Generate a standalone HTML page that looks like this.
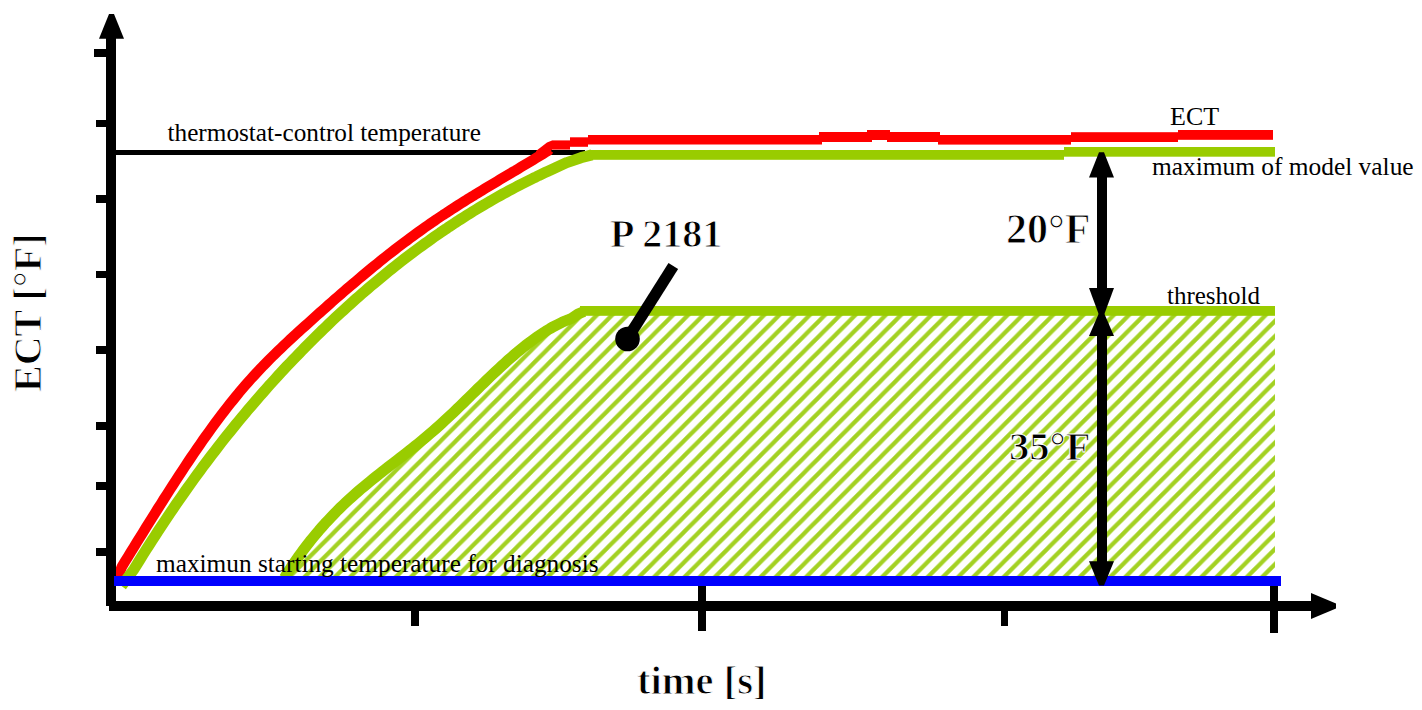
<!DOCTYPE html>
<html><head><meta charset="utf-8"><style>
html,body{margin:0;padding:0;background:#fff;width:1422px;height:710px;overflow:hidden}
svg{display:block;font-family:"Liberation Serif",serif}
</style></head><body>
<svg width="1422" height="710" viewBox="0 0 1422 710">
<defs><pattern id="h" patternUnits="userSpaceOnUse" width="15.2" height="15.2"><path d="M-3.8,3.8 L3.8,-3.8 M0,15.2 L15.2,0 M11.4,19 L19,11.4" stroke="#a3d122" stroke-width="4.2"/></pattern></defs>
<polygon points="280.0,576.0 284.5,578.0 286.0,575.3 289.0,570.6 292.0,566.0 295.0,561.6 298.0,557.3 301.0,553.2 304.0,549.1 307.0,545.2 310.0,541.3 313.0,537.6 316.0,534.0 319.0,530.4 322.0,527.0 325.0,523.6 328.0,520.4 331.0,517.2 334.0,514.1 337.0,511.0 340.0,508.0 343.0,505.1 346.0,502.3 349.0,499.5 352.0,496.8 355.0,494.1 358.0,491.5 361.0,488.9 364.0,486.4 367.0,483.9 370.0,481.5 373.0,479.0 376.0,476.6 379.0,474.2 382.0,471.9 385.0,469.5 388.0,467.2 391.0,464.9 394.0,462.6 397.0,460.2 400.0,457.9 403.0,455.6 406.0,453.2 409.0,450.9 412.0,448.5 415.0,446.1 418.0,443.7 421.0,441.3 424.0,438.8 427.0,436.3 430.0,433.7 433.0,431.1 436.0,428.5 439.0,425.8 442.0,423.1 445.0,420.3 448.0,417.5 451.0,414.7 454.0,411.9 457.0,409.0 460.0,406.1 463.0,403.2 466.0,400.3 469.0,397.3 472.0,394.4 475.0,391.5 478.0,388.5 481.0,385.6 484.0,382.7 487.0,379.8 490.0,376.9 493.0,374.1 496.0,371.2 499.0,368.4 502.0,365.7 505.0,362.9 508.0,360.2 511.0,357.6 514.0,355.0 517.0,352.4 520.0,349.9 523.0,347.5 526.0,345.1 529.0,342.8 532.0,340.6 535.0,338.4 538.0,336.3 541.0,334.3 544.0,332.3 547.0,330.4 550.0,328.6 553.0,326.9 556.0,325.3 559.0,323.8 562.0,322.3 565.0,321.0 568.0,319.8 571.0,318.7 578.0,314.0 584.0,311.5 1275.0,311.0 1275.0,576.0" fill="url(#h)"/>
<rect x="116" y="150" width="469" height="5" fill="#000"/>
<polyline points="117.0,579.0 122.0,566.4 125.0,561.5 128.0,556.7 131.0,551.8 134.0,547.0 137.0,542.1 140.0,537.3 143.0,532.5 146.0,527.6 149.0,522.8 152.0,518.0 155.0,513.2 158.0,508.4 161.0,503.7 164.0,498.9 167.0,494.2 170.0,489.5 173.0,484.9 176.0,480.2 179.0,475.6 182.0,471.1 185.0,466.5 188.0,462.0 191.0,457.5 194.0,453.1 197.0,448.7 200.0,444.4 203.0,440.1 206.0,435.9 209.0,431.7 212.0,427.5 215.0,423.4 218.0,419.4 221.0,415.4 224.0,411.5 227.0,407.6 230.0,403.8 233.0,400.1 236.0,396.4 239.0,392.7 242.0,389.2 245.0,385.7 248.0,382.3 251.0,378.9 254.0,375.6 257.0,372.4 260.0,369.2 263.0,366.0 266.0,363.0 269.0,359.9 272.0,356.9 275.0,354.0 278.0,351.1 281.0,348.2 284.0,345.3 287.0,342.5 290.0,339.7 293.0,336.9 296.0,334.2 299.0,331.4 302.0,328.7 305.0,326.0 308.0,323.3 311.0,320.6 314.0,317.9 317.0,315.2 320.0,312.5 323.0,309.8 326.0,307.2 329.0,304.5 332.0,301.9 335.0,299.2 338.0,296.6 341.0,294.0 344.0,291.4 347.0,288.8 350.0,286.3 353.0,283.7 356.0,281.2 359.0,278.6 362.0,276.1 365.0,273.6 368.0,271.1 371.0,268.6 374.0,266.2 377.0,263.8 380.0,261.3 383.0,258.9 386.0,256.5 389.0,254.2 392.0,251.8 395.0,249.5 398.0,247.2 401.0,244.9 404.0,242.6 407.0,240.4 410.0,238.1 413.0,235.9 416.0,233.7 419.0,231.6 422.0,229.4 425.0,227.3 428.0,225.2 431.0,223.1 434.0,221.1 437.0,219.0 440.0,217.0 443.0,215.0 446.0,213.1 449.0,211.1 452.0,209.1 455.0,207.2 458.0,205.3 461.0,203.4 464.0,201.5 467.0,199.6 470.0,197.8 473.0,195.9 476.0,194.1 479.0,192.2 482.0,190.4 485.0,188.6 488.0,186.8 491.0,185.0 494.0,183.2 497.0,181.4 500.0,179.6 503.0,177.8 506.0,176.0 509.0,174.2 512.0,172.4 515.0,170.7 518.0,168.9 521.0,167.1 524.0,165.3 527.0,163.5 530.0,161.7 533.0,159.9 536.0,158.1 539.0,156.3 542.0,154.5 545.0,152.6 548.0,150.8 549.0,149.5" fill="none" stroke="#ff0000" stroke-width="10.5" stroke-linejoin="round"/>
<polygon points="536,151 547,142.5 552,140.4 552,149.6 547,156.6 537,162.3" fill="#ff0000"/>
<rect x="552" y="140.4" width="18" height="9.199999999999989" fill="#ff0000"/>
<rect x="570" y="137.3" width="18" height="9.5" fill="#ff0000"/>
<rect x="588" y="135" width="231" height="9.5" fill="#ff0000"/>
<rect x="819" y="132" width="48" height="10" fill="#ff0000"/>
<rect x="867" y="130" width="23" height="10" fill="#ff0000"/>
<rect x="890" y="132" width="50" height="10" fill="#ff0000"/>
<rect x="940" y="135" width="131" height="9.599999999999994" fill="#ff0000"/>
<rect x="1071" y="132.2" width="107" height="9.800000000000011" fill="#ff0000"/>
<rect x="1178" y="130" width="95" height="9.800000000000011" fill="#ff0000"/>
<rect x="819" y="142" width="3" height="2.5" fill="#ff0000"/>
<rect x="867" y="139" width="5" height="3" fill="#ff0000"/>
<rect x="887" y="139" width="3" height="3" fill="#ff0000"/>
<rect x="938" y="142" width="2" height="2.5999999999999943" fill="#ff0000"/>
<polyline points="121.5,586.0 134.0,569.2 137.0,564.3 140.0,559.5 143.0,554.7 146.0,549.9 149.0,545.2 152.0,540.5 155.0,535.9 158.0,531.3 161.0,526.7 164.0,522.2 167.0,517.7 170.0,513.2 173.0,508.8 176.0,504.4 179.0,500.1 182.0,495.8 185.0,491.5 188.0,487.3 191.0,483.1 194.0,478.9 197.0,474.8 200.0,470.7 203.0,466.6 206.0,462.6 209.0,458.6 212.0,454.7 215.0,450.8 218.0,446.9 221.0,443.0 224.0,439.2 227.0,435.4 230.0,431.7 233.0,428.0 236.0,424.3 239.0,420.6 242.0,417.0 245.0,413.4 248.0,409.8 251.0,406.3 254.0,402.8 257.0,399.3 260.0,395.9 263.0,392.5 266.0,389.1 269.0,385.7 272.0,382.4 275.0,379.1 278.0,375.8 281.0,372.6 284.0,369.3 287.0,366.1 290.0,363.0 293.0,359.8 296.0,356.7 299.0,353.6 302.0,350.5 305.0,347.4 308.0,344.4 311.0,341.4 314.0,338.4 317.0,335.4 320.0,332.5 323.0,329.5 326.0,326.7 329.0,323.8 332.0,320.9 335.0,318.1 338.0,315.3 341.0,312.5 344.0,309.8 347.0,307.0 350.0,304.3 353.0,301.6 356.0,298.9 359.0,296.3 362.0,293.7 365.0,291.1 368.0,288.5 371.0,285.9 374.0,283.4 377.0,280.9 380.0,278.4 383.0,275.9 386.0,273.4 389.0,271.0 392.0,268.6 395.0,266.2 398.0,263.9 401.0,261.5 404.0,259.2 407.0,256.9 410.0,254.6 413.0,252.3 416.0,250.1 419.0,247.9 422.0,245.7 425.0,243.5 428.0,241.4 431.0,239.2 434.0,237.1 437.0,235.0 440.0,232.9 443.0,230.9 446.0,228.9 449.0,226.8 452.0,224.8 455.0,222.9 458.0,220.9 461.0,219.0 464.0,217.1 467.0,215.2 470.0,213.3 473.0,211.4 476.0,209.6 479.0,207.8 482.0,206.0 485.0,204.2 488.0,202.5 491.0,200.7 494.0,199.0 497.0,197.3 500.0,195.6 503.0,193.9 506.0,192.3 509.0,190.7 512.0,189.1 515.0,187.5 518.0,185.9 521.0,184.3 524.0,182.8 527.0,181.3 530.0,179.8 533.0,178.3 536.0,176.9 539.0,175.4 542.0,174.0 545.0,172.6 548.0,171.2 566.8,162.6 581.0,157.7 592.0,154.9" fill="none" stroke="#99cc00" stroke-width="11" stroke-linejoin="round"/>
<rect x="590" y="150" width="474" height="9.8" fill="#99cc00"/>
<rect x="1064" y="147" width="211" height="9.7" fill="#99cc00"/>
<polyline points="284.5,578.0 286.0,575.3 289.0,570.6 292.0,566.0 295.0,561.6 298.0,557.3 301.0,553.2 304.0,549.1 307.0,545.2 310.0,541.3 313.0,537.6 316.0,534.0 319.0,530.4 322.0,527.0 325.0,523.6 328.0,520.4 331.0,517.2 334.0,514.1 337.0,511.0 340.0,508.0 343.0,505.1 346.0,502.3 349.0,499.5 352.0,496.8 355.0,494.1 358.0,491.5 361.0,488.9 364.0,486.4 367.0,483.9 370.0,481.5 373.0,479.0 376.0,476.6 379.0,474.2 382.0,471.9 385.0,469.5 388.0,467.2 391.0,464.9 394.0,462.6 397.0,460.2 400.0,457.9 403.0,455.6 406.0,453.2 409.0,450.9 412.0,448.5 415.0,446.1 418.0,443.7 421.0,441.3 424.0,438.8 427.0,436.3 430.0,433.7 433.0,431.1 436.0,428.5 439.0,425.8 442.0,423.1 445.0,420.3 448.0,417.5 451.0,414.7 454.0,411.9 457.0,409.0 460.0,406.1 463.0,403.2 466.0,400.3 469.0,397.3 472.0,394.4 475.0,391.5 478.0,388.5 481.0,385.6 484.0,382.7 487.0,379.8 490.0,376.9 493.0,374.1 496.0,371.2 499.0,368.4 502.0,365.7 505.0,362.9 508.0,360.2 511.0,357.6 514.0,355.0 517.0,352.4 520.0,349.9 523.0,347.5 526.0,345.1 529.0,342.8 532.0,340.6 535.0,338.4 538.0,336.3 541.0,334.3 544.0,332.3 547.0,330.4 550.0,328.6 553.0,326.9 556.0,325.3 559.0,323.8 562.0,322.3 565.0,321.0 568.0,319.8 571.0,318.7 578.0,314.0 584.0,311.5" fill="none" stroke="#99cc00" stroke-width="11" stroke-linejoin="round"/>
<rect x="580" y="306" width="695" height="9.8" fill="#99cc00"/>
<rect x="106" y="38" width="10" height="568" fill="#000"/>
<polygon points="109,14 114,14 124,38.7 99,38.7" fill="#000"/>
<rect x="94" y="49" width="12" height="8" fill="#000"/>
<rect x="96" y="120" width="10" height="7" fill="#000"/>
<rect x="96" y="195" width="10" height="8" fill="#000"/>
<rect x="96" y="271" width="10" height="7" fill="#000"/>
<rect x="96" y="346" width="10" height="8" fill="#000"/>
<rect x="96" y="422" width="10" height="8" fill="#000"/>
<rect x="96" y="482" width="10" height="8" fill="#000"/>
<rect x="96" y="548" width="10" height="8" fill="#000"/>
<rect x="109" y="601" width="1202" height="10" fill="#000"/>
<polygon points="1311,593 1336,603.5 1336,608.5 1311,619" fill="#000"/>
<rect x="411" y="611" width="8" height="15" fill="#000"/>
<rect x="698" y="586" width="8" height="45" fill="#000"/>
<rect x="1001" y="611" width="7" height="15" fill="#000"/>
<rect x="1270" y="586" width="8" height="47" fill="#000"/>
<rect x="114" y="576" width="1167" height="10" fill="#0000ff"/>
<rect x="1097" y="176" width="10" height="114" fill="#000"/>
<polygon points="1099,152.3 1104,152.3 1114,177.6 1089,177.6" fill="#000"/>
<polygon points="1089,288 1114,288 1104,315 1099,315" fill="#000"/>
<polygon points="1099,313 1104,313 1114,336 1089,336" fill="#000"/>
<rect x="1097" y="334" width="10" height="229" fill="#000"/>
<polygon points="1089,561.3 1114,561.3 1104,585.5 1099,585.5" fill="#000"/>
<line x1="673.3" y1="266" x2="627.2" y2="339" stroke="#000" stroke-width="11.4"/>
<circle cx="627.5" cy="339" r="12.3" fill="#000"/>
<text x="167.5" y="141" font-size="25.25" font-weight="normal">thermostat-control temperature</text>
<text x="1170" y="124.6" font-size="26" font-weight="normal">ECT</text>
<text x="1152" y="174.8" font-size="25.4" font-weight="normal">maximum of model value</text>
<text x="1167" y="303.8" font-size="25" font-weight="normal">threshold</text>
<text x="156" y="572" font-size="25.3" font-weight="normal">maximun starting temperature for diagnosis</text>
<text x="610" y="247.3" font-size="40" font-weight="bold" stroke="#fff" stroke-width="1.0">P 2181</text>
<text x="1006" y="242.6" font-size="42" font-weight="bold" stroke="#fff" stroke-width="1.0">20°F</text>
<text x="1009" y="459.7" font-size="40.5" font-weight="bold" stroke="#fff" stroke-width="1.0">35°F</text>
<text x="637" y="694" font-size="40.6" font-weight="bold" stroke="#fff" stroke-width="1.0">time [s]</text>
<text transform="translate(41,392) rotate(-90)" x="0" y="0" font-size="40" font-weight="bold" stroke="#fff" stroke-width="1.0">ECT [°F]</text>
</svg>
</body></html>
